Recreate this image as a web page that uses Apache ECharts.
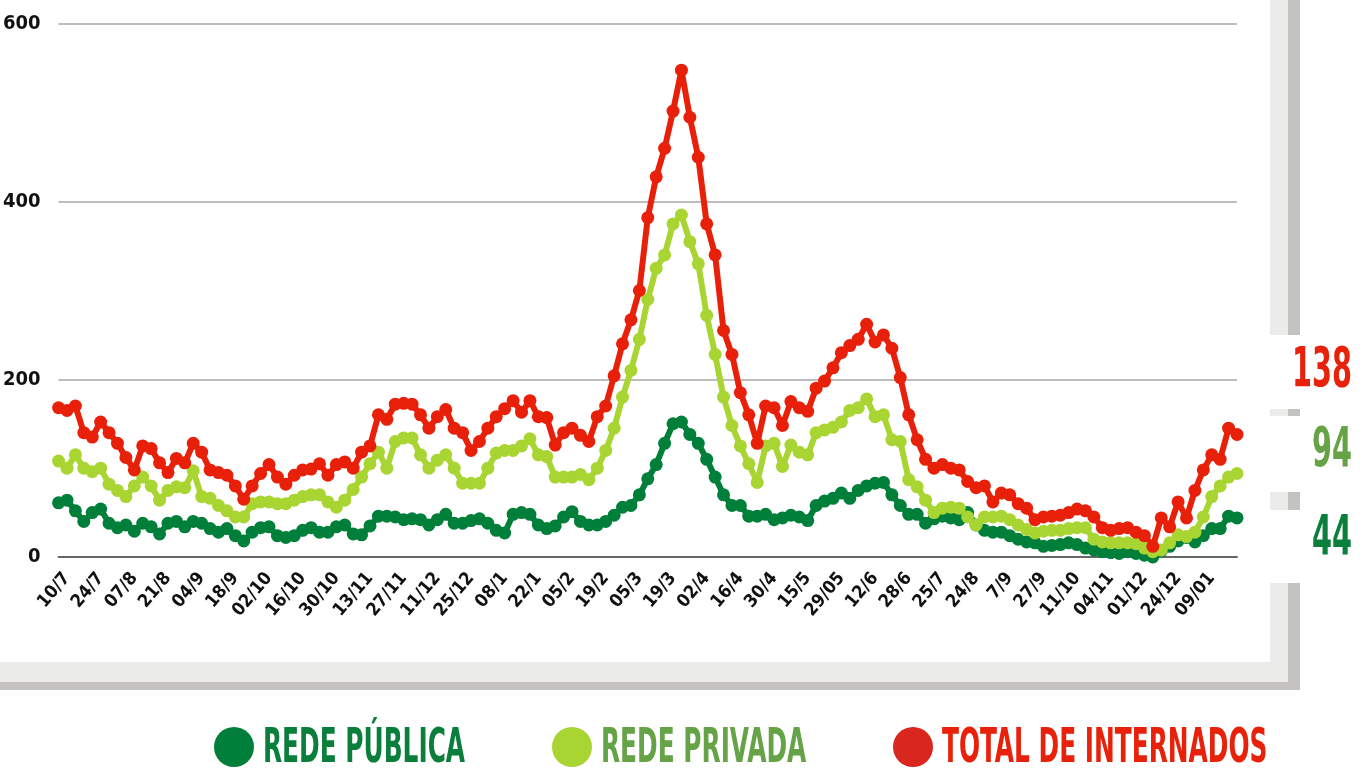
<!DOCTYPE html>
<html>
<head>
<meta charset="utf-8">
<script src="https://cdn.jsdelivr.net/npm/echarts@6/dist/echarts.min.js"></script>
<style>
  html, body { margin: 0; padding: 0; background: #fff; }
  #chart { width: 1367px; height: 771px; }
</style>
</head>
<body>
<div id="chart"></div>
<script>
// rótulos do eixo x (um a cada 4 pontos)
var tickLabels = ['10/7', '24/7', '07/8', '21/8', '04/9', '18/9', '02/10', '16/10', '30/10', '13/11',
    '27/11', '11/12', '25/12', '08/1', '22/1', '05/2', '19/2', '05/3', '19/3', '02/4',
    '16/4', '30/4', '15/5', '29/05', '12/6', '28/6', '25/7', '24/8', '7/9', '27/9',
    '11/10', '04/11', '01/12', '24/12', '09/01'];

var publica = [61, 64, 52, 40, 50, 54, 38, 33, 36, 29, 38, 34, 26, 38, 40, 34, 40, 38, 32, 28,
    32, 24, 18, 28, 33, 34, 24, 22, 24, 30, 33, 28, 28, 34, 36, 26, 25, 35, 46, 46,
    45, 42, 43, 42, 36, 42, 48, 38, 38, 41, 43, 38, 30, 27, 48, 50, 48, 36, 32, 35,
    45, 51, 40, 36, 36, 40, 47, 56, 58, 70, 88, 104, 128, 150, 152, 138, 128, 110, 90, 70,
    58, 58, 46, 46, 48, 42, 44, 47, 45, 41, 58, 63, 66, 72, 66, 75, 80, 83, 84, 70,
    58, 48, 48, 38, 43, 46, 44, 42, 50, 36, 30, 28, 28, 24, 20, 17, 16, 12, 13, 14,
    16, 14, 10, 8, 6, 5, 4, 6, 4, 2, 0, 7, 12, 18, 22, 17, 24, 32, 32, 46, 44];

var privada = [108, 100, 115, 100, 96, 100, 82, 75, 68, 80, 90, 80, 64, 75, 79, 78, 97, 68, 66, 58,
    52, 45, 45, 60, 62, 62, 60, 60, 64, 68, 70, 70, 62, 56, 64, 76, 90, 105, 118, 100,
    130, 134, 134, 115, 100, 109, 115, 100, 83, 83, 83, 100, 117, 120, 120, 125, 133, 115, 113, 90,
    90, 90, 93, 87, 100, 120, 145, 180, 210, 245, 290, 325, 340, 375, 385, 355, 330, 272, 228, 180,
    148, 125, 105, 84, 125, 128, 102, 126, 118, 115, 140, 143, 146, 152, 165, 168, 178, 158, 160, 132,
    130, 87, 79, 64, 50, 55, 56, 55, 45, 36, 45, 45, 46, 42, 36, 31, 27, 29, 30, 30,
    32, 33, 33, 20, 17, 16, 16, 16, 15, 10, 6, 8, 16, 25, 23, 28, 45, 68, 80, 90, 94];

var total = [168, 165, 170, 140, 135, 152, 140, 128, 112, 98, 125, 122, 106, 95, 111, 106, 128, 118, 98, 95,
    92, 80, 65, 80, 94, 104, 90, 82, 92, 98, 99, 105, 92, 104, 107, 100, 118, 125, 160, 155,
    172, 173, 172, 160, 145, 158, 166, 145, 140, 120, 130, 145, 158, 167, 176, 163, 176, 158, 157, 126,
    140, 145, 137, 130, 158, 170, 204, 240, 267, 300, 382, 428, 460, 502, 548, 495, 450, 375, 340, 255,
    228, 185, 160, 128, 170, 168, 148, 175, 168, 164, 190, 198, 213, 230, 238, 245, 262, 242, 250, 235,
    202, 160, 132, 110, 100, 104, 100, 98, 85, 78, 80, 62, 72, 70, 60, 55, 42, 45, 46, 47,
    50, 54, 52, 45, 33, 30, 32, 33, 28, 24, 12, 44, 34, 62, 44, 75, 98, 115, 110, 145, 138];

var seriesNames = ['REDE PÚBLICA', 'REDE PRIVADA', 'TOTAL DE INTERNADOS'];
var seriesData = [publica, privada, total];
var lineColors = ['#007f3a', '#a8d532', '#e8200a'];
var dotColors = ['#007f3a', '#a8d532', '#d9261f'];
var textColors = ['#0a7f3b', '#65a346', '#e8210a'];

var condensed = "'Liberation Sans Narrow', 'DejaVu Sans Condensed', sans-serif";

var categories = publica.map(function (v, i) {
    return (i - 1) % 4 === 0 ? tickLabels[(i - 1) / 4] : '';
});

var myChart = echarts.init(document.getElementById('chart'));

// moldura cinza
var light = '#ebebea', dark = '#c4c3bf';
var graphic = [
    { type: 'rect', shape: { x: 1270, y: 0, width: 18, height: 335 }, style: { fill: light } },
    { type: 'rect', shape: { x: 1288, y: 0, width: 12, height: 335 }, style: { fill: dark } },
    { type: 'rect', shape: { x: 1270, y: 409, width: 18, height: 7 }, style: { fill: light } },
    { type: 'rect', shape: { x: 1288, y: 409, width: 12, height: 7 }, style: { fill: dark } },
    { type: 'rect', shape: { x: 1270, y: 492, width: 18, height: 18 }, style: { fill: light } },
    { type: 'rect', shape: { x: 1288, y: 492, width: 12, height: 18 }, style: { fill: dark } },
    { type: 'rect', shape: { x: 0, y: 662, width: 1288, height: 20 }, style: { fill: light } },
    { type: 'rect', shape: { x: 1270, y: 583, width: 18, height: 99 }, style: { fill: light } },
    { type: 'rect', shape: { x: 0, y: 682, width: 1300, height: 8 }, style: { fill: dark } },
    { type: 'rect', shape: { x: 1288, y: 583, width: 12, height: 107 }, style: { fill: dark } }
];

// últimos valores à direita
var lastY = [540, 452, 372];
seriesData.forEach(function (d, k) {
    graphic.push({
        type: 'text', x: 1352, y: lastY[k], scaleX: 0.58,
        style: {
            text: String(d[d.length - 1]), font: 'bold 55px ' + condensed,
            fill: textColors[k], align: 'right', verticalAlign: 'middle'
        }
    });
});

// legenda
var legendX = [234, 572, 913];
seriesNames.forEach(function (name, k) {
    graphic.push({ type: 'circle', shape: { cx: legendX[k], cy: 747, r: 20 }, style: { fill: dotColors[k] } });
    graphic.push({
        type: 'text', x: legendX[k] + 29, y: 750, scaleX: 0.575,
        style: {
            text: name, font: 'bold 48px ' + condensed,
            fill: textColors[k], verticalAlign: 'middle'
        }
    });
});

myChart.setOption({
    animation: false,
    grid: { left: 58, right: 130, top: 24, bottom: 214, containLabel: false },
    xAxis: {
        type: 'category',
        data: categories,
        boundaryGap: false,
        axisLine: { lineStyle: { color: '#666', width: 2 } },
        axisTick: { show: false },
        axisLabel: {
            interval: 0, rotate: 50, margin: 18,
            fontFamily: condensed, fontWeight: 'bold', fontSize: 18, color: '#111'
        }
    },
    yAxis: {
        type: 'value',
        min: 0, max: 600, interval: 200,
        axisLine: { show: false },
        axisTick: { show: false },
        splitLine: { lineStyle: { color: '#bdbdbd', width: 2 } },
        axisLabel: {
            margin: 18, fontFamily: condensed, fontWeight: 'bold', fontSize: 20, color: '#111'
        }
    },
    series: seriesData.map(function (d, k) {
        return {
            name: seriesNames[k],
            type: 'line',
            data: d,
            symbol: 'circle',
            symbolSize: 13,
            showAllSymbol: true,
            lineStyle: { color: lineColors[k], width: 6 },
            itemStyle: { color: lineColors[k] }
        };
    }),
    graphic: graphic
});
</script>
</body>
</html>
